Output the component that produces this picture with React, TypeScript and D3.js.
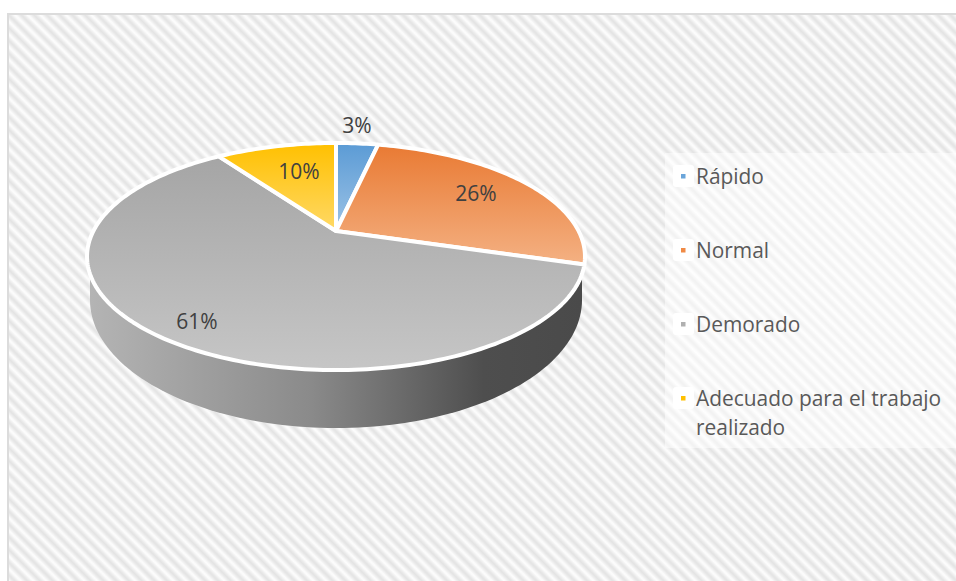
import React from "react";
import * as d3 from "d3";

const categories = ["Rápido", "Normal", "Demorado", "Adecuado para el trabajo realizado"];
const values = [3.4, 26.3, 60.6, 9.7];
const percentLabels = ["3%", "26%", "61%", "10%"];
const gradientTop = ["#5b9bd5", "#e97a33", "#a5a5a5", "#ffc000"];
const gradientBottom = ["#9dc3e6", "#f4b183", "#c6c6c6", "#ffd966"];
const markerColors = ["#6ba5da", "#f08a45", "#b0b0b0", "#ffc000"];

const W = 956, H = 581;
const CX = 336, CY = 231, K = 0.2248, RX = 242.6, RY = 107.8;

// Perspective projection of the unit disc (u right, v away from viewer)
function project(angle: number, r = 1): [number, number] {
  const u = r * Math.sin(angle), v = r * Math.cos(angle);
  const w = 1 + K * v;
  return [CX + (RX * u) / w, CY - (RY * v) / w];
}

function arcPoints(a0: number, a1: number): [number, number][] {
  const n = Math.max(4, Math.ceil(Math.abs(a1 - a0) / 0.02));
  return d3.range(n + 1).map((i) => project(a0 + ((a1 - a0) * i) / n));
}

const line = d3.line();

export default function App() {
  const arcs = d3.pie<number>().sort(null)(values);

  // Side wall: lower rim
  const sideCx = 336, sideCy = 300, sideRx = 246, sideRy = 128;
  const lowerRim = d3.range(0, 101).map((i): [number, number] => {
    const t = Math.PI * 1.0 - (Math.PI * i) / 100 ;
    return [sideCx + sideRx * Math.cos(t), sideCy + sideRy * Math.sin(t)];
  });
  const sidePath =
    line([[90, 277], ...lowerRim, [582, 277], [336, 240]]) + "Z";

  const legendY = [176, 250, 324, 398];
  const labelPos: [number, number][] = [[357, 133], [476, 201], [197, 329], [299, 179]];
  const font = "'Open Sans', sans-serif";

  return (
    <svg width={W} height={H} style={{ position: "absolute", left: 0, top: 0 }}>
      <defs>
        <linearGradient id="stripeGrad" x1="0" x2="1" y1="0" y2="0">
          <stop offset="0" stopColor="#ffffff" />
          <stop offset="0.45" stopColor="#e4e4e4" />
          <stop offset="0.55" stopColor="#e4e4e4" />
          <stop offset="1" stopColor="#ffffff" />
        </linearGradient>
        <pattern id="stripes" width="9" height="9" patternUnits="userSpaceOnUse" patternTransform="rotate(-45)">
          <rect width="9" height="9" fill="url(#stripeGrad)" />
        </pattern>
        <linearGradient id="sideGrad" x1="90" x2="582" y1="0" y2="0" gradientUnits="userSpaceOnUse">
          <stop offset="0" stopColor="#b4b4b4" />
          <stop offset="0.45" stopColor="#8a8a8a" />
          <stop offset="0.8" stopColor="#4e4e4e" />
          <stop offset="1" stopColor="#4a4a4a" />
        </linearGradient>
        {arcs.map((d, i) => (
          <linearGradient key={i} id={`slice${i}`} x1="0" x2="0" y1="0" y2="1">
            <stop offset="0" stopColor={gradientTop[i]} />
            <stop offset="1" stopColor={gradientBottom[i]} />
          </linearGradient>
        ))}
      </defs>

      <rect width={W} height={H} fill="#fff" />
      <rect x={8} y={14} width={W} height={H} fill="url(#stripes)" stroke="#dcdcdc" strokeWidth={2} />

      <path d={sidePath} fill="url(#sideGrad)" />
      {arcs.map((d, i) => (
        <path
          key={i}
          d={line([[CX, CY], ...arcPoints(d.startAngle, d.endAngle)]) + "Z"}
          fill={`url(#slice${i})`}
          stroke="#fff"
          strokeWidth={4}
          strokeLinejoin="round"
        />
      ))}

      {percentLabels.map((t, i) => (
        <text key={i} x={labelPos[i][0]} y={labelPos[i][1]} textAnchor="middle" fontFamily={font} fontSize={21} fill="#404040">
          {t}
        </text>
      ))}

      <rect x={665} y={153} width={291} height={295} fill="#fff" opacity={0.5} />
      {categories.map((c, i) => {
        const y = legendY[i];
        const wrapped = c.length > 25 ? ["Adecuado para el trabajo", "realizado"] : [c];
        return (
          <g key={i}>
            <rect x={673} y={y - 11} width={21} height={22} rx={3} fill="#fff" />
            <rect x={681} y={y - 2} width={4.5} height={4.5} fill={markerColors[i]} />
            {wrapped.map((w, j) => (
              <text key={j} x={696} y={y + 8 + j * 29} fontFamily={font} fontSize={20.9} fill="#595959">
                {w}
              </text>
            ))}
          </g>
        );
      })}
    </svg>
  );
}
